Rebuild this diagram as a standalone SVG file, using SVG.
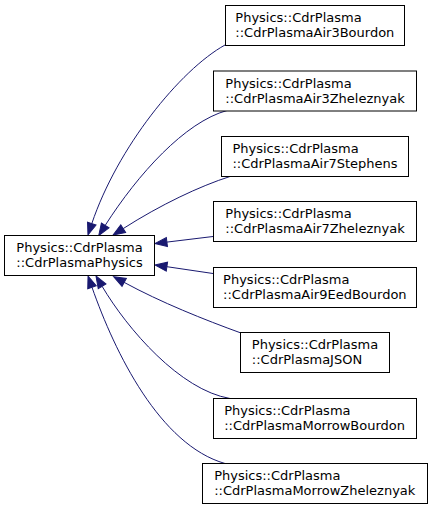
<svg xmlns="http://www.w3.org/2000/svg" width="433" height="509" viewBox="0 0 433 509">
<style>
.n rect{fill:#fff;stroke:#000;stroke-width:1}
.n text{font-family:"DejaVu Sans",sans-serif;font-size:13px;fill:#000}
.e path{fill:none;stroke:#191970;stroke-width:1}
</style>
<defs>
<marker id="ah" markerUnits="userSpaceOnUse" markerWidth="14" markerHeight="12" refX="0" refY="6" orient="auto" overflow="visible">
<path d="M0,1.5 L12,6 L0,10.5 Z" fill="#191970" stroke="#191970" stroke-width="1"/>
</marker>
</defs>
<rect width="433" height="509" fill="#fff"/>
<g id="edges" class="e">
<path d="M225,45 C180,70 117.4,147.6 91.8,223.6" marker-end="url(#ah)"/>
<path d="M227,110.5 C185,122 138,174 105.2,225.4" marker-end="url(#ah)"/>
<path d="M230,176.5 C200,186 160,205 123.2,228.6" marker-end="url(#ah)"/>
<path d="M213,236.5 L166.9,242.1" marker-end="url(#ah)"/>
<path d="M213,273.5 L166.9,266.7" marker-end="url(#ah)"/>
<path d="M241,333 C205,320 160,302 124.2,282.4" marker-end="url(#ah)"/>
<path d="M230,398.5 C180,390 127.6,329.3 102.1,286.3" marker-end="url(#ah)"/>
<path d="M225,463.5 C160,445 115,353 92,287.3" marker-end="url(#ah)"/>
</g>
<g id="base" class="n">
<rect x="4.5" y="235.5" width="150" height="40"/>
<text x="16.35" y="252">Physics::CdrPlasma</text>
<text x="16.35" y="267">::CdrPlasmaPhysics</text>
</g>
<g id="n1" class="n">
<rect x="225.5" y="5.5" width="179" height="40"/>
<text x="235.3" y="22">Physics::CdrPlasma</text>
<text x="235.3" y="37">::CdrPlasmaAir3Bourdon</text>
</g>
<g id="n2" class="n">
<rect x="213.5" y="71" width="203" height="40"/>
<text x="225.3" y="87.5">Physics::CdrPlasma</text>
<text x="225.3" y="102.5">::CdrPlasmaAir3Zheleznyak</text>
</g>
<g id="n3" class="n">
<rect x="221.5" y="136.5" width="187" height="40"/>
<text x="232.4" y="153">Physics::CdrPlasma</text>
<text x="232.4" y="168">::CdrPlasmaAir7Stephens</text>
</g>
<g id="n4" class="n">
<rect x="213.5" y="201.5" width="203" height="40"/>
<text x="225.3" y="218">Physics::CdrPlasma</text>
<text x="225.3" y="233">::CdrPlasmaAir7Zheleznyak</text>
</g>
<g id="n5" class="n">
<rect x="213.5" y="267.5" width="203" height="40"/>
<text x="223.1" y="284">Physics::CdrPlasma</text>
<text x="223.1" y="299">::CdrPlasmaAir9EedBourdon</text>
</g>
<g id="n6" class="n">
<rect x="240.5" y="332.5" width="149" height="40"/>
<text x="251.85" y="349">Physics::CdrPlasma</text>
<text x="251.85" y="364">::CdrPlasmaJSON</text>
</g>
<g id="n7" class="n">
<rect x="213.5" y="398.5" width="203" height="40"/>
<text x="224.2" y="415">Physics::CdrPlasma</text>
<text x="224.2" y="430">::CdrPlasmaMorrowBourdon</text>
</g>
<g id="n8" class="n">
<rect x="202.5" y="463.5" width="225" height="40"/>
<text x="214.15" y="480">Physics::CdrPlasma</text>
<text x="214.15" y="495">::CdrPlasmaMorrowZheleznyak</text>
</g>
</svg>
